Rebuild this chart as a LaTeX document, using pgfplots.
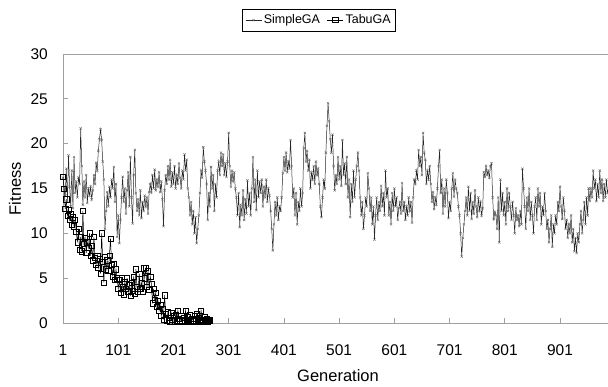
\documentclass[border=0pt]{standalone}
\usepackage{pgfplots}
\pgfplotsset{compat=1.18}
\usepackage{pgfplotstable}
\usepackage{fontspec}
\setmainfont{Liberation Sans}
\definecolor{axgray}{HTML}{A0A0A0}

\pgfplotstableread{
x y
1 16.2
3 15.0
5 14.2
7 17.2
9 13.5
11 18.7
13 15.2
15 13.0
17 17.0
19 12.8
21 18.5
23 14.5
25 15.8
27 14.0
29 16.2
31 15.5
33 21.7
35 17.5
37 13.2
39 15.8
41 14.0
43 16.5
45 13.4
47 15.0
49 14.2
51 15.2
53 13.8
55 14.8
57 16.5
59 15.5
61 17.8
63 17.0
65 19.2
67 20.5
69 21.6
71 20.4
73 18.0
75 16.0
77 10.5
79 12.5
81 14.6
83 13.0
85 15.2
87 14.0
89 16.0
91 15.0
93 17.4
95 13.5
97 15.5
99 9.6
101 12.0
103 8.9
105 11.5
107 14.0
109 16.3
111 13.5
113 15.0
115 12.2
117 14.8
119 16.8
121 13.0
123 18.5
125 14.0
127 11.1
129 16.5
131 19.3
133 14.5
135 12.5
137 13.8
139 12.0
141 14.8
143 11.7
145 13.5
147 12.5
149 14.2
151 13.0
153 14.0
155 12.2
157 14.6
159 15.5
161 14.6
163 16.5
165 15.0
167 17.1
169 14.8
171 16.0
173 15.2
175 16.8
177 14.6
179 15.8
181 13.8
183 10.8
185 14.8
187 16.5
189 15.5
191 17.5
193 16.0
195 18.2
197 15.2
199 16.8
201 15.5
203 17.5
205 15.0
207 16.5
209 15.5
211 17.8
213 16.2
215 15.0
217 17.0
219 16.0
221 18.8
223 17.0
225 18.2
227 15.0
229 14.0
231 12.0
233 13.5
235 11.0
237 12.5
239 10.0
241 11.8
243 8.9
245 10.5
247 12.0
249 14.5
251 17.0
253 16.2
255 19.6
257 18.0
259 17.0
261 15.5
263 11.5
265 14.5
267 13.0
269 17.4
271 15.0
273 16.5
275 12.5
277 15.5
279 14.0
281 17.0
283 18.0
285 16.5
287 19.0
289 17.5
291 18.8
293 16.5
295 17.8
297 16.3
299 18.0
301 21.2
303 17.5
305 15.2
307 17.0
309 15.8
311 16.8
313 15.0
315 14.0
317 12.0
319 14.5
321 10.7
323 13.2
325 12.0
327 14.8
329 11.5
331 13.8
333 12.2
335 15.9
337 13.0
339 14.5
341 12.0
343 15.0
345 18.5
347 13.5
349 16.0
351 12.6
353 17.0
355 14.0
357 15.8
359 14.5
361 16.0
363 13.0
365 15.2
367 14.0
369 16.0
371 13.5
373 15.0
375 14.2
377 12.5
379 10.5
381 8.1
383 11.0
385 13.5
387 12.0
389 14.0
391 11.5
393 13.0
395 12.5
397 14.0
399 16.7
401 18.5
403 17.0
405 19.0
407 16.8
409 18.0
411 17.2
413 20.4
415 17.5
417 14.0
419 15.0
421 12.0
423 14.5
425 11.0
427 13.5
429 12.5
431 15.0
433 13.0
435 14.5
437 19.5
439 21.2
441 18.0
443 19.2
445 17.0
447 18.2
449 15.0
451 16.8
453 16.0
455 17.5
457 15.5
459 18.0
461 16.5
463 17.2
465 15.5
467 13.0
469 11.8
471 14.0
473 16.0
475 15.0
477 19.0
479 22.0
481 24.5
483 22.5
485 20.5
487 19.0
489 21.0
491 17.5
493 14.8
495 16.5
497 15.5
499 18.5
501 16.0
503 17.5
505 15.3
507 20.4
509 16.5
511 17.8
513 15.5
515 18.5
517 14.0
519 16.0
521 11.8
523 15.5
525 13.5
527 17.0
529 14.0
531 16.0
533 17.5
535 19.0
537 17.0
539 14.0
541 12.0
543 13.5
545 10.5
547 12.0
549 14.0
551 13.0
553 16.7
555 15.0
557 12.5
559 14.0
561 11.0
563 13.0
565 9.3
567 12.0
569 14.0
571 11.5
573 13.5
575 12.5
577 15.3
579 13.0
581 14.5
583 12.0
585 17.0
587 14.0
589 15.0
591 12.0
593 13.5
595 11.0
597 14.5
599 12.5
601 15.0
603 13.0
605 14.0
607 11.5
609 12.8
611 13.5
613 12.2
615 15.6
617 12.5
619 13.5
621 11.5
623 13.0
625 12.0
627 14.0
629 12.5
631 13.5
633 11.2
635 14.0
637 16.0
639 15.5
641 17.0
643 16.0
645 19.3
647 17.5
649 18.5
651 16.5
653 21.2
655 19.0
657 18.2
659 15.5
661 17.0
663 16.0
665 17.5
667 15.5
669 13.5
671 14.6
673 12.7
675 14.0
677 13.2
679 15.0
681 17.5
683 19.3
685 14.5
687 16.0
689 12.2
691 15.0
693 13.0
695 16.0
697 14.5
699 11.7
701 13.5
703 12.5
705 15.0
707 16.7
709 14.1
711 16.0
713 15.0
715 14.5
717 13.0
719 12.0
721 10.0
723 7.4
725 9.5
727 11.0
729 12.5
731 14.0
733 12.0
735 15.2
737 12.5
739 14.5
741 11.6
743 13.5
745 12.2
747 14.8
749 13.0
751 11.8
753 14.0
755 12.5
757 13.5
759 12.0
761 12.8
763 16.8
765 16.3
767 17.5
769 16.5
771 17.0
773 16.2
775 17.5
777 17.8
779 14.0
781 11.6
783 12.4
785 12.0
787 10.5
789 14.0
791 9.0
793 16.0
795 12.5
797 14.5
799 12.0
801 13.5
803 11.0
805 15.0
807 12.5
809 14.5
811 13.0
813 11.5
815 13.5
817 12.0
819 10.0
821 12.8
823 11.5
825 12.0
827 10.8
829 12.5
831 11.0
833 17.2
835 15.0
837 13.0
839 10.5
841 14.0
843 12.5
845 15.0
847 11.5
849 13.5
851 12.0
853 10.0
855 13.0
857 14.0
859 11.5
861 15.0
863 13.0
865 14.5
867 11.0
869 13.0
871 12.0
873 14.5
875 12.5
877 10.5
879 11.5
881 9.0
883 10.5
885 12.0
887 8.5
889 11.0
891 10.0
893 12.0
895 11.0
897 13.5
899 12.5
901 15.2
903 13.0
905 11.6
907 14.0
909 12.5
911 10.5
913 11.5
915 9.5
917 11.0
919 10.0
921 12.0
923 9.0
925 10.5
927 8.0
929 9.5
931 7.8
933 10.0
935 9.0
937 11.0
939 12.5
941 10.0
943 11.5
945 13.5
947 11.0
949 14.0
951 12.0
953 15.0
955 13.6
957 15.0
959 14.0
961 17.0
963 15.0
965 16.0
967 13.6
969 15.5
971 14.0
973 17.0
975 14.5
977 16.0
979 13.6
981 15.5
983 14.0
985 16.0
987 14.5
989 15.0
}\simplega

\pgfplotstableread{
x y
1 16.3
3 15.0
5 12.7
7 13.8
9 12.0
11 12.6
13 11.5
15 12.2
17 11.0
19 11.8
21 10.8
23 11.5
25 10.2
27 9.0
29 10.5
31 8.2
33 9.6
35 8.0
37 12.5
39 8.8
41 9.5
43 7.8
45 9.0
47 8.4
49 10.0
51 7.5
53 8.6
55 7.0
57 9.6
59 7.3
61 6.5
63 7.5
65 6.2
67 7.2
69 5.5
71 10.0
73 6.8
75 4.5
77 7.4
79 6.0
81 7.0
83 5.8
85 7.5
87 9.4
89 6.5
91 5.2
93 6.6
95 4.8
97 6.0
99 5.0
101 3.8
103 4.8
105 3.4
107 5.0
109 4.0
111 3.2
113 4.6
115 3.8
117 5.0
119 3.5
121 4.2
123 3.0
125 4.5
127 3.6
129 5.2
131 3.3
133 6.0
135 4.0
137 3.5
139 5.5
141 3.8
143 4.5
145 3.5
147 6.1
149 5.0
151 6.2
153 4.0
155 5.8
157 3.7
159 5.2
161 4.4
163 2.2
165 3.8
167 2.6
169 3.4
171 1.8
173 2.5
175 1.4
177 2.0
179 0.8
181 1.6
183 0.4
185 3.1
187 1.0
189 0.3
191 1.2
193 0.6
195 0.2
197 1.1
199 0.4
201 0.8
203 0.2
205 0.9
207 0.3
209 1.4
211 0.5
213 0.2
215 0.8
217 0.3
219 0.6
221 0.2
223 1.4
225 0.4
227 0.7
229 0.2
231 0.9
233 0.3
235 0.5
237 0.2
239 0.8
241 0.3
243 1.0
245 0.2
247 0.6
249 0.3
251 1.4
253 0.4
255 0.2
257 0.7
259 0.3
261 0.5
263 0.2
265 0.4
267 0.3
}\tabuga

\begin{document}
\begin{tikzpicture}
\begin{axis}[
  at={(63pt,64pt)}, anchor=south west,
  scale only axis,
  width=551.7pt, height=269pt,
  xmin=1, xmax=1000, ymin=0, ymax=30,
  xtick={1,101,201,301,401,501,601,701,801,901},
  ytick={0,5,10,15,20,25,30},
  tick align=inside,
  xtick pos=bottom, ytick pos=left,
  major tick length=5pt,
  axis line style={axgray, line width=0.8pt},
  every tick/.style={axgray, line width=0.8pt},
  /pgf/number format/assume math mode=true,
  /pgf/number format/1000 sep={},
  tick label style={font=\fontsize{15.5}{18}\selectfont},
  xticklabel style={anchor=base, yshift=-33pt},
  yticklabel style={anchor=east, inner sep=0pt, xshift=-15pt},
  xlabel={Generation},
  ylabel={Fitness},
  label style={font=\fontsize{16.5}{19}\selectfont},
  xlabel style={at={(axis description cs:0.4985,-0.218)}, anchor=base, inner sep=0pt},
  ylabel style={at={(axis description cs:-0.087,0.5)}, anchor=center},
  legend columns=2,
  legend style={at={(axis description cs:0.464,1.126)}, anchor=center,
    draw=black, line width=0.6pt, font=\fontsize{12.5}{15}\selectfont,
    inner xsep=3pt, inner ysep=3.5pt,
    /tikz/every even column/.append style={column sep=5pt}},
  legend image code/.code={
    \draw[#1, mark repeat=2, mark phase=2] plot coordinates {(0pt,0pt) (8pt,0pt) (16pt,0pt)};
  },
]
\addplot[black!85, line width=0.5pt, mark=x, mark size=1.6pt,
  mark options={black!60, line width=0.4pt}] table[x=x,y=y] {\simplega};
\addlegendentry{SimpleGA}
\addplot[black, line width=0.5pt, mark=square, mark size=2.6pt,
  mark options={black, line width=0.5pt}] table[x=x,y=y] {\tabuga};
\addlegendentry{TabuGA}
\end{axis}
\pgfresetboundingbox
\path[use as bounding box] (0,0) rectangle (608pt,387pt);
\end{tikzpicture}
\end{document}
